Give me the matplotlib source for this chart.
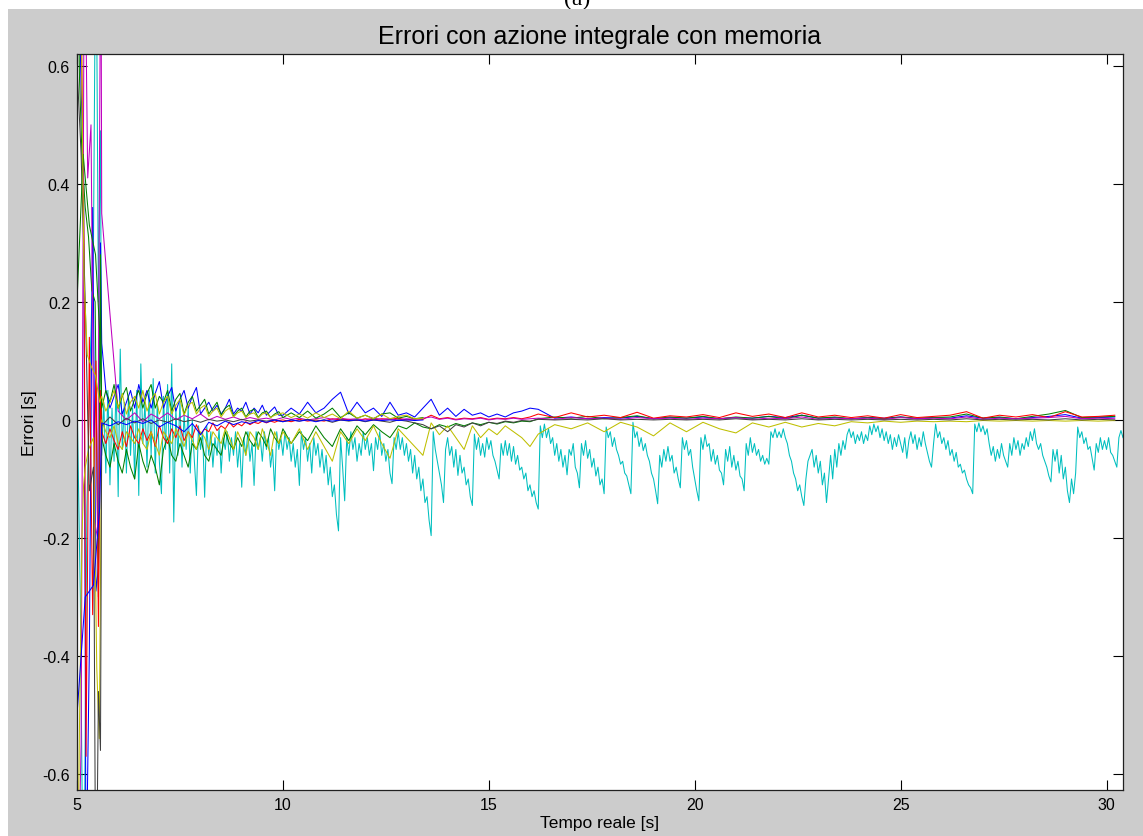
import matplotlib
matplotlib.use("Agg")
import matplotlib.pyplot as plt
from matplotlib.patches import Rectangle
import numpy as np

# MATLAB (pre-2014) default line colours
BLUE = (0.0, 0.0, 1.0)
GREEN = (0.0, 0.5, 0.0)
RED = (1.0, 0.0, 0.0)
CYAN = (0.0, 0.75, 0.75)
MAGENTA = (0.75, 0.0, 0.75)
YELLOW = (0.75, 0.75, 0.0)
BLACK = (0.25, 0.25, 0.25)

# start-up transient (5.0 - 5.6 s)
cyan_t0 = [5.0, 5.08, 5.16, 5.24, 5.32, 5.4, 5.46, 5.52, 5.57]
cyan_v0 = [0.05, -0.3, -0.9, -0.15, 0.1, 0.3, 0.9, 0.2, 0.49]
blue_t0 = [5.0, 5.1, 5.16, 5.22, 5.3, 5.38, 5.46, 5.52, 5.57]
blue_v0 = [0.9, 0.56, 0.42, -0.8, -0.39, 0.36, -0.29, -0.25, 0.3]
red_t0 = [5.0, 5.1, 5.17, 5.22, 5.3, 5.38, 5.46, 5.52, 5.57]
red_v0 = [0.9, 0.7, 0.3, -0.57, 0.14, -0.33, 0.1, -0.35, 0.05]
magenta_t0 = [5.0, 5.1, 5.18, 5.26, 5.34, 5.42, 5.5, 5.58]
magenta_v0 = [-0.9, -0.55, 0.9, 0.41, 0.5, -0.17, -0.2, 0.9]
green_t0 = [5.0, 5.06, 5.12, 5.2, 5.28, 5.36, 5.44, 5.52, 5.57]
green_v0 = [0.9, 0.58, 0.45, 0.36, 0.31, 0.22, 0.2, -0.3, 0.28]
green2_t0 = [5.0, 5.15, 5.3, 5.45, 5.55]
green2_v0 = [0.2, 0.45, 0.33, 0.28, 0.15]
yellow_t0 = [5.0, 5.06, 5.12, 5.16, 5.2, 5.28, 5.4, 5.48, 5.54]
yellow_v0 = [-0.9, -0.52, -0.2, -0.11, -0.08, -0.05, -0.03, -0.42, -0.54]
yellow2_t0 = [5.0, 5.08, 5.13, 5.17, 5.25, 5.35, 5.45, 5.55]
yellow2_v0 = [0.6, 0.9, 0.5, 0.24, 0.11, 0.09, 0.075, 0.03]
black_t0 = [5.0, 5.1, 5.2, 5.3, 5.4, 5.46, 5.52, 5.57]
black_v0 = [0.6, 0.45, 0.2, -0.12, -0.08, -0.9, -0.46, -0.56]
blue2_t0 = [5.0, 5.2, 5.4, 5.55]
blue2_v0 = [-0.5, -0.3, -0.28, -0.15]

# cyan error, every 0.05 s from 5.6 s to 30.4 s (one row per second)
cyan_vals = [
    -0.06, 0.03, -0.09, 0.05, -0.11, 0.02, -0.07, 0.06,
    -0.13, 0.12, -0.05, 0.03, -0.09, 0.04, -0.06, 0.02, -0.10, 0.05,
    -0.128, 0.095, -0.04, 0.03, -0.08, 0.05, -0.06, 0.07, -0.09, 0.03,
    -0.07, -0.125, 0.04, -0.05, 0.06, -0.09, 0.095, -0.173, 0.02, -0.06,
    0.03, -0.08, 0.01, -0.05, 0.02, -0.09, 0.0, -0.07, -0.128, -0.01,
    -0.05, -0.02, -0.131, -0.01, -0.06, -0.02, -0.08, -0.03, -0.06, -0.015,
    -0.09, -0.03, -0.05, -0.02, -0.07, -0.03, -0.06, -0.02, -0.08, -0.04,
    -0.114, -0.03, -0.06, -0.02, -0.07, -0.04, -0.111, -0.02, -0.05, -0.03,
    -0.07, -0.02, -0.05, -0.03, -0.08, -0.05, -0.12, -0.02, -0.05, -0.03,
    -0.06, -0.02, -0.05, -0.03, -0.07, -0.04, -0.08, -0.05, -0.111, -0.02,
    -0.05, -0.03, -0.07, -0.04, -0.09, -0.03, -0.06, -0.04, -0.08, -0.05,
    -0.09, -0.06, -0.11, -0.08, -0.13, -0.11, -0.16, -0.188, -0.03, -0.08,
    -0.137, -0.03, -0.06, -0.02, -0.05, -0.03, -0.07, -0.04, -0.06, -0.02,
    -0.05, -0.03, -0.06, -0.04, -0.086, -0.03, -0.05, -0.02, -0.06, -0.04,
    -0.07, -0.05, -0.09, -0.108, -0.03, -0.05, -0.02, -0.05, -0.03, -0.06,
    -0.04, -0.07, -0.05, -0.09, -0.06, -0.10, -0.08, -0.12, -0.10, -0.14,
    -0.13, -0.17, -0.196, -0.02, -0.05, -0.07, -0.09, -0.11, -0.14, -0.05,
    -0.03, -0.06, -0.045, -0.08, -0.05, -0.094, -0.06, -0.09, -0.08, -0.11,
    -0.10, -0.13, -0.145, -0.024, -0.05, -0.03, -0.06, -0.04, -0.063, -0.03,
    -0.05, -0.035, -0.06, -0.07, -0.085, -0.10, -0.04, -0.06, -0.035, -0.06,
    -0.04, -0.07, -0.045, -0.075, -0.06, -0.085, -0.08, -0.10, -0.09, -0.12,
    -0.11, -0.13, -0.12, -0.14, -0.151, -0.01, -0.03, -0.007, -0.03, -0.015,
    -0.04, -0.03, -0.06, -0.04, -0.07, -0.05, -0.08, -0.06, -0.093, -0.05,
    -0.06, -0.04, -0.08, -0.09, -0.115, -0.04, -0.06, -0.035, -0.065, -0.05,
    -0.08, -0.065, -0.095, -0.08, -0.11, -0.10, -0.125, -0.012, -0.03, -0.02,
    -0.045, -0.03, -0.05, -0.06, -0.075, -0.07, -0.09, -0.095, -0.11, -0.125,
    -0.004, -0.03, -0.02, -0.045, -0.03, -0.052, -0.04, -0.06, -0.07, -0.09,
    -0.10, -0.12, -0.142, -0.06, -0.08, -0.05, -0.07, -0.045, -0.07, -0.06,
    -0.09, -0.08, -0.10, -0.115, -0.03, -0.05, -0.035, -0.06, -0.05, -0.08,
    -0.10, -0.12, -0.137, -0.03, -0.05, -0.025, -0.045, -0.04, -0.07, -0.05,
    -0.075, -0.06, -0.085, -0.09, -0.11, -0.05, -0.07, -0.045, -0.08, -0.06,
    -0.085, -0.07, -0.095, -0.10, -0.12, -0.04, -0.06, -0.03, -0.055, -0.04,
    -0.06, -0.05, -0.07, -0.06, -0.075, -0.065, -0.075, -0.02, -0.03, -0.015,
    -0.03, -0.02, -0.03, -0.015, -0.03, -0.04, -0.06, -0.07, -0.09, -0.10,
    -0.12, -0.11, -0.13, -0.145, -0.10, -0.07, -0.06, -0.05, -0.08, -0.06,
    -0.09, -0.07, -0.11, -0.09, -0.14, -0.10, -0.06, -0.10, -0.05, -0.08,
    -0.04, -0.06, -0.035, -0.05, -0.025, -0.015, -0.03, -0.02, -0.04, -0.025,
    -0.035, -0.02, -0.04, -0.025, -0.035, -0.01, -0.025, -0.007, -0.02, -0.01,
    -0.03, -0.015, -0.035, -0.02, -0.04, -0.025, -0.05, -0.03, -0.045, -0.025,
    -0.04, -0.055, -0.03, -0.065, -0.035, -0.02, -0.04, -0.025, -0.05, -0.03,
    -0.045, -0.02, -0.04, -0.055, -0.07, -0.08, -0.04, -0.007, -0.03, -0.02,
    -0.04, -0.03, -0.05, -0.035, -0.06, -0.05, -0.07, -0.055, -0.08, -0.075,
    -0.09, -0.085, -0.10, -0.11, -0.115, -0.125, -0.007, -0.02, -0.005, -0.02,
    -0.01, -0.025, -0.015, -0.04, -0.06, -0.045, -0.07, -0.05, -0.065, -0.04,
    -0.06, -0.07, -0.08, -0.04, -0.06, -0.03, -0.05, -0.035, -0.06, -0.04,
    -0.05, -0.03, -0.045, -0.02, -0.035, -0.015, -0.04, -0.05, -0.04, -0.06,
    -0.07, -0.08, -0.095, -0.105, -0.05, -0.07, -0.05, -0.09, -0.06, -0.10,
    -0.08, -0.12, -0.14, -0.10, -0.125, -0.09, -0.012, -0.03, -0.02, -0.04,
    -0.03, -0.05, -0.045, -0.065, -0.085, -0.04, -0.055, -0.03, -0.05, -0.035,
    -0.05, -0.03, -0.055, -0.06, -0.07, -0.08, -0.03, -0.018, -0.03,
]

# other errors: 0.1 s steps up to 9.9 s ("fast"), 0.2 s steps 10.0-16.0 s ("mid"),
# 0.4 s steps from 16.2 s ("late")
blue_fast = [
    0.13, 0.05, 0.02, 0.04, 0.06, 0.01, 0.03, 0.05, 0.02, 0.06,
    0.03, 0.05, 0.02, 0.045, 0.065, 0.02, 0.04, 0.055, 0.015, 0.035,
    0.05, 0.02, 0.04, 0.055, 0.01, 0.02, 0.03, 0.015, 0.025, 0.01,
    0.02, 0.035, 0.01, 0.02, 0.015, 0.03, 0.01, 0.02, 0.012, 0.025,
    0.008, 0.015, 0.022, 0.008,
]
blue_mid = [
    0.008, 0.02, 0.01, 0.03, 0.012, 0.02, 0.035, 0.047, 0.01, 0.03,
    0.012, 0.02, 0.006, 0.03, 0.008, 0.012, 0.005, 0.02, 0.035, 0.008,
    0.02, 0.006, 0.018, 0.008, 0.012, 0.005, 0.01, 0.005, 0.012, 0.015, 0.02,
]
blue_late = [
    0.018, 0.003, 0.005, 0.002, 0.004, 0.003, 0.006, 0.002, 0.004, 0.003,
    0.005, 0.002, 0.004, 0.003, 0.006, 0.004, 0.008, 0.003, 0.004, 0.002,
    0.004, 0.003, 0.005, 0.002, 0.004, 0.003, 0.007, 0.003, 0.004, 0.002,
    0.004, 0.006, 0.009, 0.003, 0.004, 0.005,
]
red_fast = [
    -0.02, -0.04, -0.015, -0.035, -0.05, -0.02, -0.045, -0.01, -0.03, -0.04,
    -0.015, -0.035, -0.02, -0.045, -0.01, -0.03, -0.04, -0.015, -0.03, -0.01,
    -0.035, -0.02, -0.03, -0.008, -0.025, -0.015, -0.02, -0.005, -0.018, -0.01,
    -0.015, -0.004, -0.012, -0.006, -0.01, -0.003, -0.008, -0.004, -0.006, -0.002,
    -0.005, -0.002, -0.004, -0.001,
]
red_mid = [
    0.0, -0.003, 0.001, -0.002, 0.0, -0.002, 0.002, 0.0, 0.001, -0.001,
    0.002, 0.0, 0.002, 0.001, 0.003, 0.0, 0.002, 0.001, 0.008, 0.002,
    0.004, 0.001, 0.003, 0.002, 0.004, 0.001, 0.003, 0.002, 0.004, 0.002, 0.005,
]
red_late = [
    0.01, 0.004, 0.012, 0.005, 0.008, 0.004, 0.013, 0.003, 0.007, 0.005,
    0.009, 0.004, 0.012, 0.006, 0.01, 0.004, 0.012, 0.005, 0.008, 0.004,
    0.007, 0.003, 0.009, 0.004, 0.006, 0.008, 0.014, 0.003, 0.008, 0.005,
    0.009, 0.004, 0.014, 0.005, 0.006, 0.008,
]
green_fast = [
    -0.03, -0.06, -0.08, -0.04, -0.07, -0.09, -0.05, -0.08, -0.1, -0.04,
    -0.07, -0.09, -0.06, -0.08, -0.11, -0.05, -0.03, -0.06, -0.07, -0.04,
    -0.06, -0.08, -0.04, -0.05, -0.03, -0.06, -0.07, -0.04, -0.05, -0.06,
    -0.02, -0.04, -0.05, -0.03, -0.045, -0.02, -0.035, -0.045, -0.02, -0.03,
    -0.045, -0.015, -0.03, -0.04,
]
green_mid = [
    -0.015, -0.04, -0.02, -0.035, -0.01, -0.03, -0.045, -0.015, -0.035, -0.01,
    -0.025, -0.008, -0.02, -0.03, -0.01, -0.015, -0.005, -0.012, -0.015, -0.008,
    -0.012, -0.006, -0.01, -0.005, -0.008, -0.004, -0.007, -0.003, -0.005, -0.002, -0.003,
]
green_late = [
    0.002, 0.005, 0.003, 0.006, 0.002, 0.004, 0.007, 0.002, 0.005, 0.003,
    0.006, 0.002, 0.005, 0.003, 0.006, 0.002, 0.008, 0.003, 0.005, 0.002,
    0.004, 0.002, 0.005, 0.003, 0.004, 0.005, 0.01, 0.003, 0.005, 0.002,
    0.006, 0.01, 0.016, 0.004, 0.005, 0.006,
]
yellow_fast = [
    0.0, -0.02, -0.03, -0.01, -0.04, -0.05, -0.02, -0.03, -0.04, -0.015,
    -0.04, -0.05, -0.02, -0.04, -0.06, -0.02, -0.03, -0.04, -0.015, -0.03,
    -0.045, -0.02, -0.035, -0.05, -0.02, -0.03, -0.05, -0.02, -0.03, -0.04,
    -0.015, -0.03, -0.05, -0.02, -0.035, -0.06, -0.02, -0.03, -0.05, -0.015,
    -0.035, -0.06, -0.02, -0.04,
]
yellow_mid = [
    -0.02, -0.04, -0.015, -0.05, -0.02, -0.045, -0.07, -0.02, -0.04, -0.015,
    -0.035, -0.01, -0.04, -0.065, -0.015, -0.03, -0.045, -0.06, -0.005, -0.025,
    -0.01, -0.03, -0.05, -0.01, -0.03, -0.015, -0.025, -0.01, -0.02, -0.03, -0.045,
]
yellow_late = [
    -0.024, -0.008, -0.015, -0.005, -0.02, -0.004, -0.012, -0.027, -0.005, -0.02,
    -0.004, -0.015, -0.022, -0.005, -0.012, -0.004, -0.012, -0.006, -0.01, -0.003,
    -0.005, -0.002, -0.004, -0.002, -0.003, -0.002, -0.003, -0.001, -0.002, -0.001,
    -0.002, -0.001, -0.002, -0.001, -0.002, -0.001,
]
green2_fast = [
    0.02, 0.05, 0.03, 0.06, 0.02, 0.04, 0.055, 0.015, 0.035, 0.05,
    0.02, 0.045, 0.06, 0.02, 0.04, 0.03, 0.05, 0.015, 0.035, 0.045,
    0.01, 0.03, 0.04, 0.015, 0.025, 0.035, 0.01, 0.02, 0.03, 0.008,
    0.02, 0.025, 0.006, 0.015, 0.02, 0.005, 0.015, 0.018, 0.004, 0.012,
    0.015, 0.004, 0.01, 0.014,
]
green2_mid = [
    0.004, 0.012, 0.004, 0.015, 0.003, 0.01, 0.02, 0.004, 0.012, 0.003,
    0.008, 0.002, 0.01, 0.012, 0.003, 0.006, 0.002, 0.004,
]
yellow2_fast = [
    0.04, 0.015, 0.03, 0.05, 0.02, 0.045, 0.01, 0.03, 0.04, 0.02,
    0.05, 0.015, 0.035, 0.045, 0.01, 0.03, 0.04, 0.01, 0.025, 0.035,
    0.008, 0.025, 0.03, 0.01, 0.02, 0.025, 0.006, 0.015, 0.02, 0.005,
    0.015, 0.02, 0.005, 0.012, 0.015, 0.004, 0.01, 0.012, 0.003, 0.01,
    0.012, 0.004, 0.008, 0.01,
]
yellow2_mid = [
    0.012, 0.004, 0.01, 0.003, 0.012, 0.004, 0.01, 0.002, 0.015, 0.003,
    0.008, 0.002, 0.01, 0.002, 0.006, 0.008, 0.002, 0.003,
]
# these three use 0.2 s steps from 5.6 s, then the 0.4 s late grid
magenta_early = [
    0.35, 0.18, 0.015, 0.0, 0.012, -0.003, 0.01, 0.002, 0.012, 0.0,
    0.008, 0.002, 0.01, 0.0, 0.006, 0.001, 0.005, 0.0, 0.004, 0.001,
    0.003, 0.0, 0.004, 0.001, 0.003, 0.0, 0.002, 0.004, 0.001, 0.003,
    0.001, 0.002, 0.0, 0.003, 0.001, 0.002, 0.0, 0.002, 0.001, 0.003,
    0.005, 0.001, 0.003, 0.0, 0.002, 0.001, 0.003, 0.0, 0.002, 0.001,
    0.003, 0.001, 0.002,
]
magenta_late = [
    0.003, 0.001, 0.004, 0.002, 0.003, 0.001, 0.004, 0.002, 0.003, 0.001,
    0.003, 0.002, 0.004, 0.001, 0.003, 0.002, 0.005, 0.001, 0.003, 0.002,
    0.003, 0.001, 0.004, 0.002, 0.003, 0.002, 0.005, 0.001, 0.003, 0.002,
    0.003, 0.004, 0.006, 0.002, 0.003, 0.002,
]
black_early = [
    -0.01, 0.005, -0.008, 0.003, -0.005, 0.002, -0.006, 0.0, -0.004, 0.002,
    -0.003, 0.0, -0.004, 0.001, -0.002, 0.0, -0.003, 0.001, -0.002, 0.0,
    -0.002, 0.0, -0.003, 0.0, -0.002, 0.001, -0.002, 0.0, -0.004, 0.0,
    -0.002, 0.0, -0.003, 0.0, -0.002, -0.004, 0.0, -0.002, -0.005, -0.008,
    -0.015, -0.01, -0.02, -0.008, -0.012, -0.005, -0.01, -0.004, -0.006, -0.002,
    -0.004, -0.001, -0.002,
]
black_late = [
    0.001, 0.0, 0.001, 0.0, 0.002, 0.0, 0.001, 0.0, 0.001, 0.0,
    0.001, 0.0, 0.002, 0.0, 0.001, 0.0, 0.002, 0.0, 0.001, 0.0,
    0.001, 0.0, 0.001, 0.0, 0.001, 0.0, 0.002, 0.0, 0.001, 0.0,
    0.001, 0.0, 0.002, 0.0, 0.001, 0.0,
]
blue2_early = [
    -0.005, -0.01, -0.003, -0.008, -0.002, -0.006, 0.0, -0.012, -0.004, -0.01,
    -0.02, -0.006, -0.025, -0.004, -0.01, -0.002, -0.008, -0.003, -0.006, -0.001,
    -0.004, 0.0, -0.003, 0.0, -0.002, 0.0, -0.003, 0.0, -0.002, 0.0,
    -0.001, 0.0, -0.002, 0.0, -0.001, 0.0, -0.001, 0.0, -0.001, 0.0,
]

X_TICKS = [5, 10, 15, 20, 25, 30]
Y_TICKS = [-0.6, -0.4, -0.2, 0.0, 0.2, 0.4, 0.6]
Y_TICK_LABELS = ["-0.6", "-0.4", "-0.2", "0", "0.2", "0.4", "0.6"]


def build(t0, v0, *segments):
    """Join transient points with regularly sampled segments (start, step, values)."""
    t, v = list(t0), list(v0)
    for start, step, vals in segments:
        t += [start + step * i for i in range(len(vals))]
        v += list(vals)
    return np.array(t), np.array(v)


def main():
    plt.rcParams["font.family"] = ["Liberation Sans", "DejaVu Sans"]
    plt.rcParams["axes.unicode_minus"] = False

    W, H = 1143, 837
    fig = plt.figure(figsize=(W / 100, H / 100), dpi=100, facecolor="white")

    # grey MATLAB window pasted below a page caption
    fig.patches.append(Rectangle((8 / W, 0), 1 - 8 / W, 1 - 10 / H, transform=fig.transFigure,
                                 facecolor="#cccccc", edgecolor="none", zorder=-1))
    fig.text(577 / W, 1 - 5 / H, "(a)", ha="center", va="baseline", fontsize=17,
             family="Liberation Serif", zorder=-2)

    ax = fig.add_axes([77 / W, 1 - 791 / H, (1123 - 77) / W, (791 - 55) / H])
    ax.set_facecolor("white")

    series = [
        (build(cyan_t0, cyan_v0, (5.6, 0.05, cyan_vals)), CYAN),
        (build(blue_t0, blue_v0, (5.6, 0.1, blue_fast), (10.0, 0.2, blue_mid),
               (16.2, 0.4, blue_late)), BLUE),
        (build(green_t0, green_v0, (5.6, 0.1, green_fast), (10.0, 0.2, green_mid),
               (16.2, 0.4, green_late)), GREEN),
        (build(red_t0, red_v0, (5.6, 0.1, red_fast), (10.0, 0.2, red_mid),
               (16.2, 0.4, red_late)), RED),
        (build(magenta_t0, magenta_v0, (5.6, 0.2, magenta_early),
               (16.2, 0.4, magenta_late)), MAGENTA),
        (build(yellow_t0, yellow_v0, (5.6, 0.1, yellow_fast), (10.0, 0.2, yellow_mid),
               (16.2, 0.4, yellow_late)), YELLOW),
        (build(black_t0, black_v0, (5.6, 0.2, black_early), (16.2, 0.4, black_late)), BLACK),
        (build(blue2_t0, blue2_v0, (5.6, 0.2, blue2_early)), BLUE),
        (build(green2_t0, green2_v0, (5.6, 0.1, green2_fast), (10.0, 0.2, green2_mid)), GREEN),
        (build(yellow2_t0, yellow2_v0, (5.6, 0.1, yellow2_fast), (10.0, 0.2, yellow2_mid)), YELLOW),
    ]
    for (t, v), color in series:
        ax.plot(t, v, color=color, linewidth=0.75)

    ax.set_xlim(5, 30.4)
    ax.set_ylim(-0.627, 0.62)
    ax.set_xticks(X_TICKS)
    ax.set_xticklabels([str(x) for x in X_TICKS])
    ax.set_yticks(Y_TICKS)
    ax.set_yticklabels(Y_TICK_LABELS)
    ax.tick_params(direction="in", length=7.5, width=0.8, top=True, right=True,
                   labelsize=11.5, pad=5, colors="black")
    for sp in ax.spines.values():
        sp.set_linewidth(0.9)
        sp.set_color("#202020")

    ax.set_title("Errori con azione integrale con memoria", fontsize=18, pad=8)
    ax.set_xlabel("Tempo reale [s]", fontsize=12.5, labelpad=2)
    ax.set_ylabel("Errori [s]", fontsize=12.5, labelpad=4)

    fig.savefig("out.png", dpi=100)


if __name__ == "__main__":
    main()
